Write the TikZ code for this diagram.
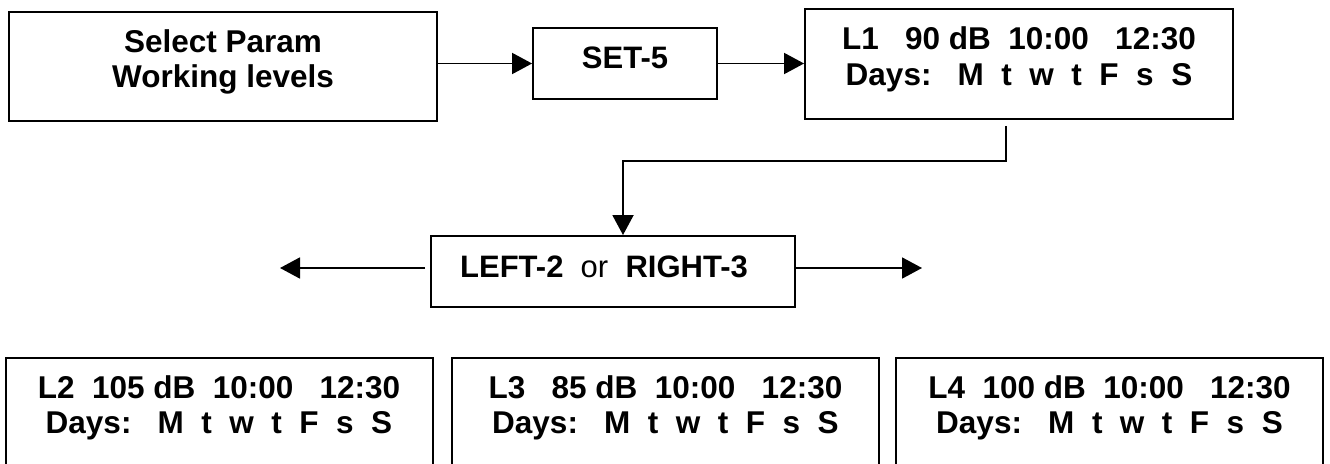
\documentclass[tikz,border=0pt]{standalone}
\usepackage{fontspec}
\setmainfont{Liberation Sans}
\usetikzlibrary{arrows.meta,calc}
\frenchspacing

\tikzset{
  panel/.style={draw=black, line width=1.9pt, fill=white, inner sep=0pt},
  line1/.style={anchor=base, inner sep=0pt, font=\bfseries\fontsize{31.5}{36}\selectfont},
  keytext/.style={anchor=base, inner sep=0pt, font=\fontsize{31}{36}\selectfont},
  conn/.style={draw=black, line width=1.9pt, -{Triangle[length=20pt,width=21pt]}},
}

\begin{document}
\begin{tikzpicture}[x=1pt, y=-1pt]
  \useasboundingbox (0,0) rectangle (1330,463);
  \clip (0,0) rectangle (1330,463);

  % top row
  \node[panel, minimum width=428pt, minimum height=109pt] (sel) at (223,66.5) {};
  \node[line1] (sel1) at (223,52) {Select Param};
  \node[line1] (sel2) at (223,87) {Working levels};

  \node[panel, minimum width=184pt, minimum height=71pt] (set) at (625,63.5) {};
  \node[keytext] (set1) at (625,68) {\bfseries SET-5};

  \node[panel, minimum width=428pt, minimum height=110pt] (l1) at (1019,64) {};
  \node[line1] (l1a) at (1019,49) {L1~~~90 dB~~10:00~~~12:30};
  \node[line1] (l1b) at (1019,85) {Days:~~~M~~t~~w~~t~~F~~s~~S};

  % key choice
  \node[panel, minimum width=364pt, minimum height=71pt] (lr) at (613,271.5) {};
  \node[keytext] (lrt) at (604,277) {\textbf{LEFT-2}~~or~~\textbf{RIGHT-3}};

  % level panels (run past the lower edge)
  \node[panel, minimum width=427pt, minimum height=160pt] (l2) at (219.5,438) {};
  \node[line1] (l2a) at (219,398) {L2~~105 dB~~10:00~~~12:30};
  \node[line1] (l2b) at (219,433) {Days:~~~M~~t~~w~~t~~F~~s~~S};

  \node[panel, minimum width=427pt, minimum height=160pt] (l3) at (665.5,438) {};
  \node[line1] (l3a) at (665.5,398) {L3~~~85 dB~~10:00~~~12:30};
  \node[line1] (l3b) at (665.5,433) {Days:~~~M~~t~~w~~t~~F~~s~~S};

  \node[panel, minimum width=427pt, minimum height=160pt] (l4) at (1109.5,438) {};
  \node[line1] (l4a) at (1109.5,398) {L4~~100 dB~~10:00~~~12:30};
  \node[line1] (l4b) at (1109.5,433) {Days:~~~M~~t~~w~~t~~F~~s~~S};

  % connectors
  \coordinate (bend) at (623,161);
  \coordinate (ltip) at (280,268);
  \coordinate (rtip) at (922,268);

  \draw[conn] (sel.east |- set.west) -- (set.west);
  \draw[conn] (set.east) -- (set.east -| l1.west);
  \draw[conn] ($(l1.south)+(-13,6)$) |- (bend) -- (bend |- lr.north);
  \draw[conn] ([xshift=-5pt]lr.west |- ltip) -- (ltip);
  \draw[conn] (lr.east |- rtip) -- (rtip);
\end{tikzpicture}
\end{document}
